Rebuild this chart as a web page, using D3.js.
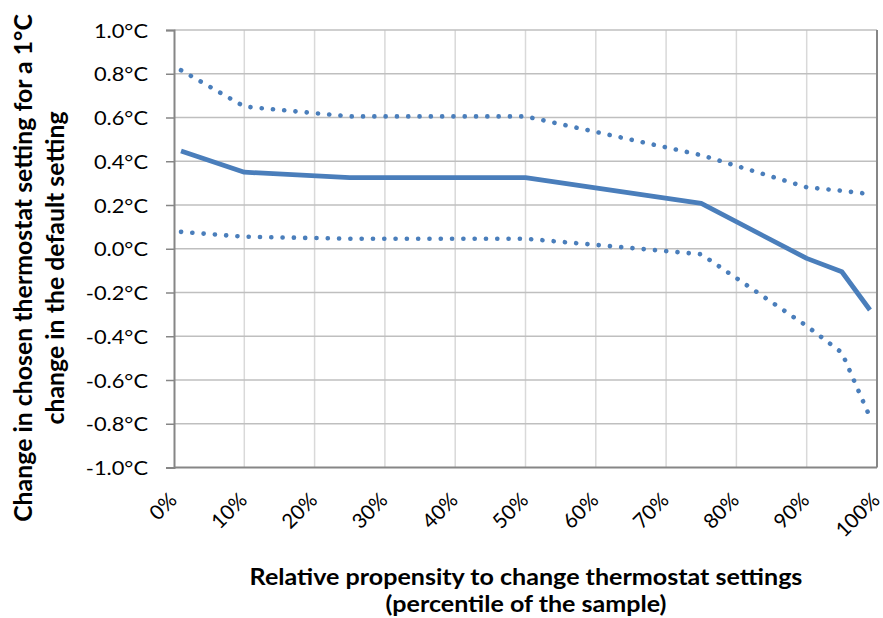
<!DOCTYPE html>
<html><head><meta charset="utf-8">
<script src="https://cdn.jsdelivr.net/npm/d3@7"></script>
<style>body{margin:0;background:#fff}svg{display:block}</style>
</head><body>
<svg id="c" width="883" height="618"></svg>
<script>
const percentiles = [1, 10, 25, 50, 75, 90, 95, 99];
const estimate    = [0.447, 0.35, 0.325, 0.325, 0.207, -0.044, -0.105, -0.28];
const upperBound  = [0.816, 0.65, 0.605, 0.605, 0.428, 0.281, 0.265, 0.25];
const lowerBound  = [0.077, 0.055, 0.046, 0.046, -0.025, -0.353, -0.475, -0.77];
const xTicks = [0,10,20,30,40,50,60,70,80,90,100];
const yTicks = [1.0,0.8,0.6,0.4,0.2,0.0,-0.2,-0.4,-0.6,-0.8,-1.0];
const xTitle = ["Relative propensity to change thermostat settings", "(percentile of the sample)"];
const yTitle = ["Change in chosen thermostat setting for a 1°C", "change in the default setting"];

const svg = d3.select("#c");
const L = 174, R = 877, T = 30, B = 467.5;
const x = d3.scaleLinear().domain([0,100]).range([L,R]);
const y = d3.scaleLinear().domain([-1,1]).range([B,T]);
const blue = "#4a7ebb";
const font = "Lato, 'Open Sans', sans-serif";
const SX = 1.12;

// vertical gridlines
svg.append("g").selectAll("line").data(xTicks.slice(1,-1)).join("line")
  .attr("x1", d=>x(d)).attr("x2", d=>x(d)).attr("y1", T).attr("y2", B)
  .attr("stroke", "#d9d9d9").attr("stroke-width", 1.5);
// horizontal gridlines
svg.append("g").selectAll("line").data(yTicks.slice(0,-1)).join("line")
  .attr("x1", L).attr("x2", R).attr("y1", d=>y(d)).attr("y2", d=>y(d))
  .attr("stroke", "#bfbfbf").attr("stroke-width", 1.5);
// borders
svg.append("line").attr("x1", R).attr("x2", R).attr("y1", T).attr("y2", B)
  .attr("stroke", "#868686").attr("stroke-width", 2);
svg.append("line").attr("x1", L).attr("x2", R).attr("y1", B).attr("y2", B)
  .attr("stroke", "#868686").attr("stroke-width", 2);

// y axis (line + ticks)
const yAxis = d3.axisLeft(y).tickValues(yTicks).tickSize(8).tickFormat("");
const ga = svg.append("g").attr("transform", `translate(${L},0)`).call(yAxis);
ga.select(".domain").attr("stroke", "#868686").attr("stroke-width", 2);
ga.selectAll(".tick line").attr("stroke", "#868686").attr("stroke-width", 1.5);
// y tick labels
svg.append("g").selectAll("text").data(yTicks).join("text")
  .attr("transform", d => `translate(148,${y(d)+7.5}) scale(${SX},1)`)
  .attr("text-anchor","end").attr("font-family", font).attr("font-size", 19.5)
  .text(d => d3.format(".1f")(d).replace("−","-") + "°C");

// x tick labels
svg.append("g").selectAll("text").data(xTicks).join("text")
  .attr("transform", d => `translate(${x(d)+4},${B+34}) rotate(-45)`)
  .attr("text-anchor", "end").attr("font-family", font).attr("font-size", 20.5)
  .text(d => d + "%");

// lines
const line = d3.line().x(d=>x(d[0])).y(d=>y(d[1]));
const series = [
  {vals: upperBound, dash: true},
  {vals: lowerBound, dash: true},
  {vals: estimate, dash: false}
];
series.forEach(s => {
  const p = svg.append("path").datum(percentiles.map((q,i)=>[q, s.vals[i]]))
    .attr("d", line).attr("fill","none").attr("stroke", blue);
  if (s.dash) p.attr("stroke-width", 4.6).attr("stroke-linecap","round").attr("stroke-dasharray","0.1 11.2");
  else p.attr("stroke-width", 4.8).attr("stroke-linejoin","round");
});

// titles
svg.append("g").selectAll("text").data(xTitle).join("text")
  .attr("transform", (d,i)=>`translate(526,${585 + i*27}) scale(${SX},1)`).attr("text-anchor","middle")
  .attr("font-family", font).attr("font-weight","bold").attr("font-size", 22.4).text(d=>d);
svg.append("g").selectAll("text").data(yTitle).join("text")
  .attr("transform", (d,i)=>`translate(${31.5 + i*32},268) scale(${SX},1.11) rotate(-90)`).attr("text-anchor","middle")
  .attr("font-family", font).attr("font-weight","bold").attr("font-size", 22.4).text(d=>d);
</script>
</body></html>
